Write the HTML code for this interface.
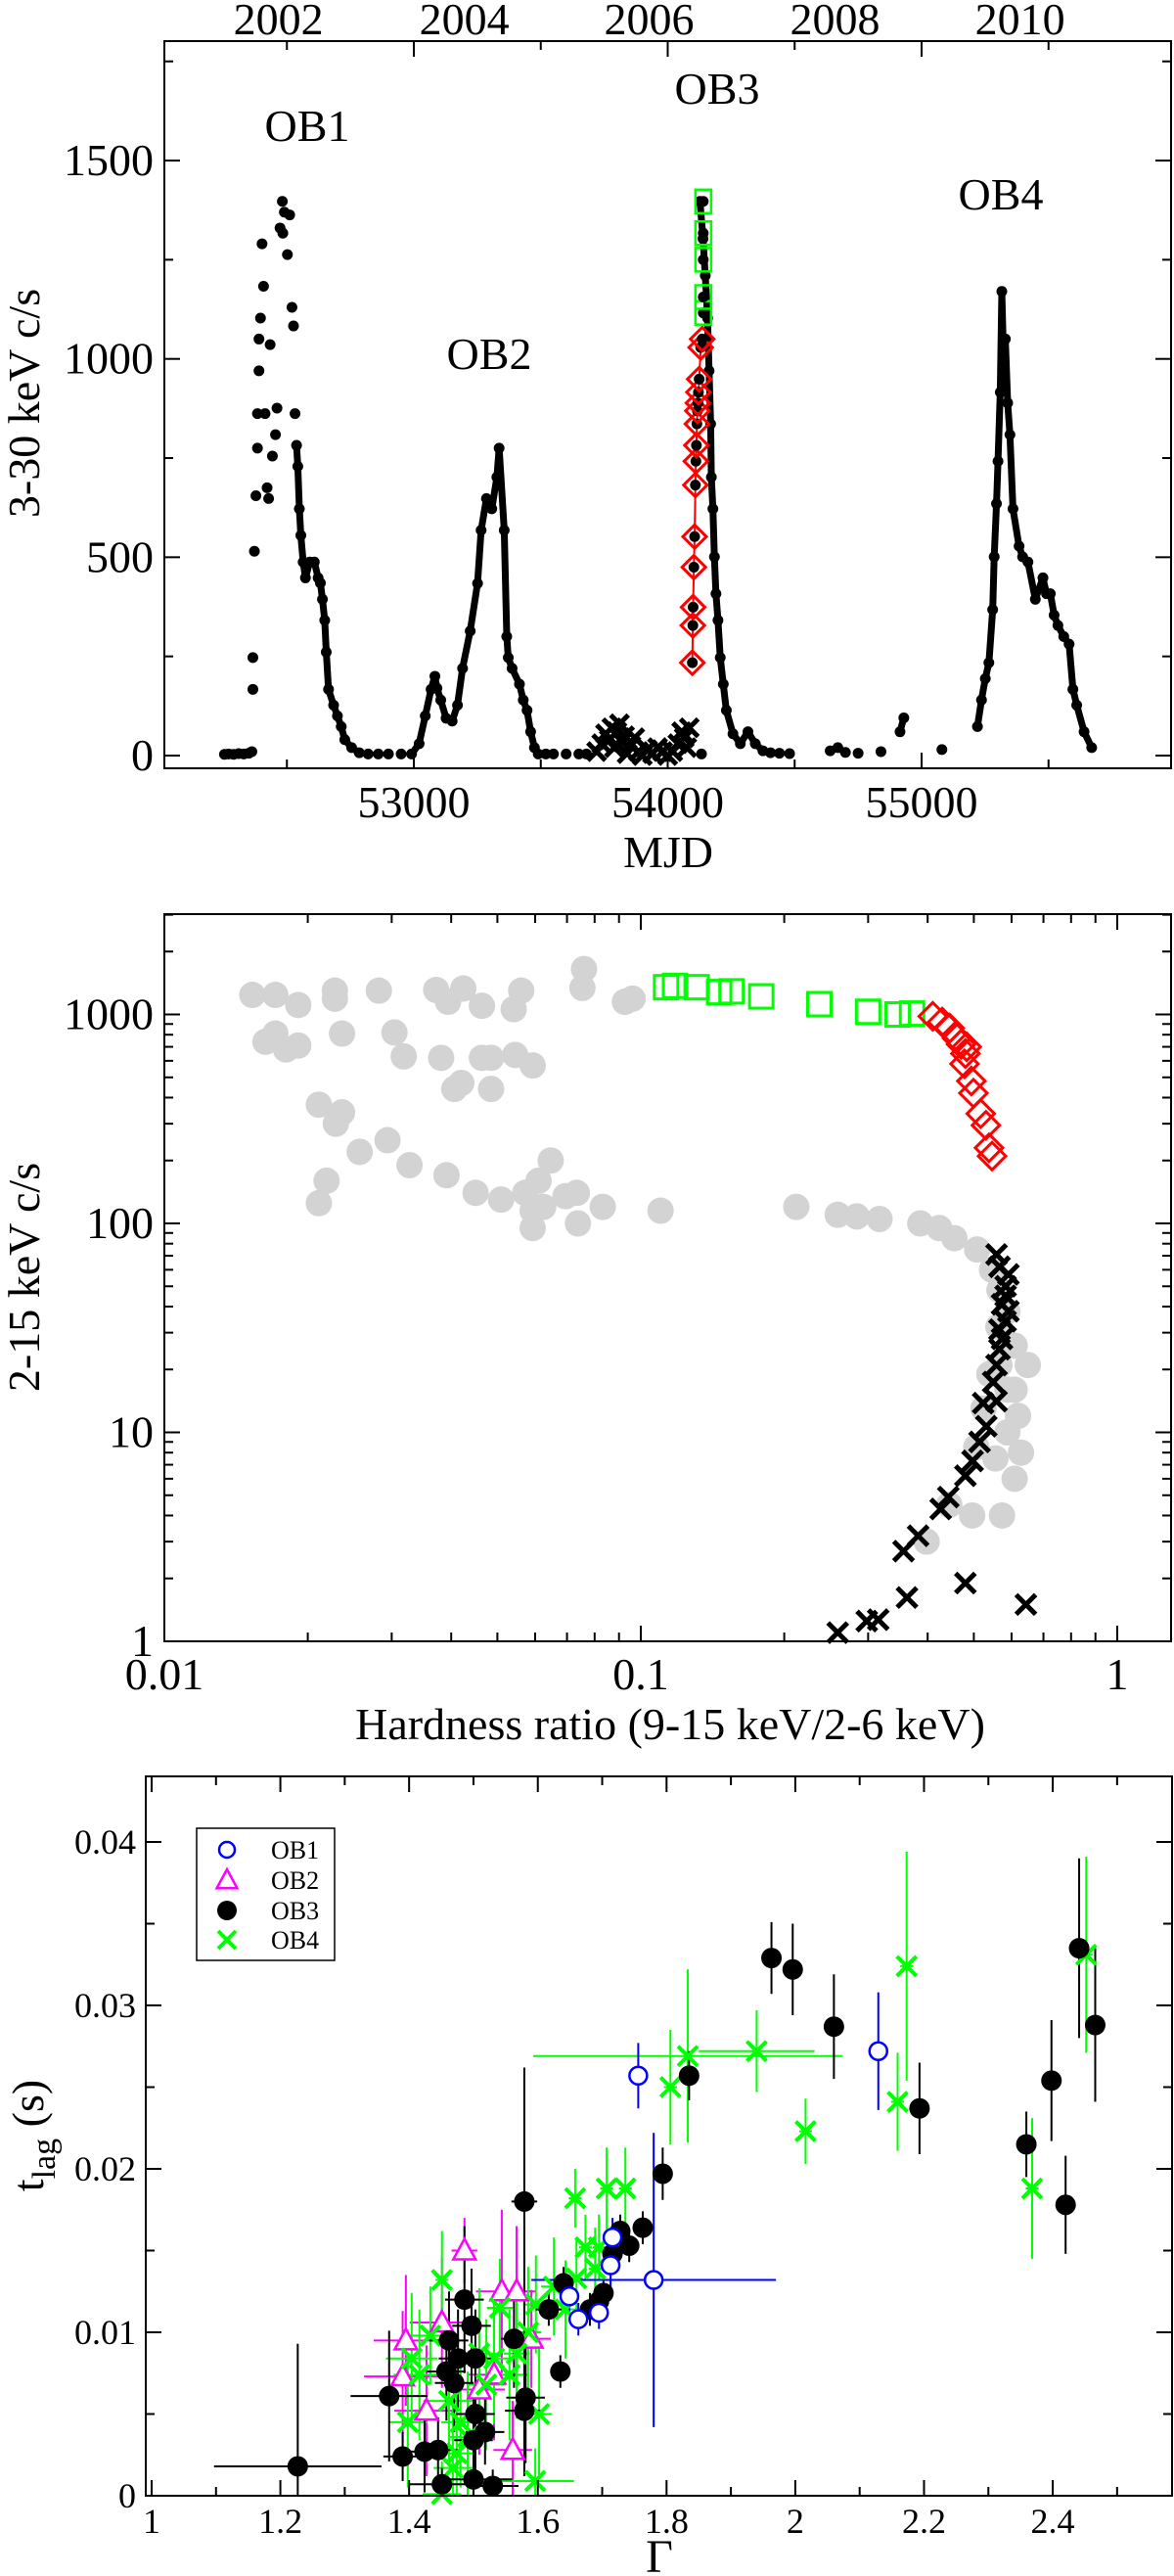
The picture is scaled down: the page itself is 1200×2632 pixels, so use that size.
<!DOCTYPE html>
<html><head><meta charset="utf-8"><style>
html,body{margin:0;padding:0;background:#fff;}
svg{display:block;font-family:"Liberation Serif",serif;}
</style></head><body>
<svg id="fig" xmlns="http://www.w3.org/2000/svg" width="1200" height="2632" viewBox="0 0 1200 2632">
<g id="p1"></g>
<g id="p2"></g>
<g id="p3"></g>
</svg>
<script>
// ---------- Panel 1 data (MJD, 3-30 keV c/s) ----------
const lcMjd = [52254,52270,52290,52310,52330,52350,52362,52366,52366,52372,52378,52384,52384,52390,52390,52396,52402,52408,52414,52422,52428,52434,52443,52455,52461,52473,52482,52484,52490,52502,52511,52520,52526,52532,52538,52543,52549,52555,52564,52573,52590,52608,52623,52632,52640,52649,52655,52664,52684,52699,52714,52728,52755,52785,52820,52860,52900,52950,52991,
53021,53045,53068,53083,53091,53106,53127,53151,53172,53192,53222,53251,53265,53286,53307,53327,53336,53356,53366,53372,53387,53416,53431,53446,53460,53475,53490,53520,53550,53600,53650,53680,
54127,54139,54148,54157,54163,54169,54172,54178,54184,54190,54198,54207,54219,54231,54257,54286,54316,54345,54375,54405,54440,54480,
54640,54670,54700,54750,54840,54915,54930,55080,
55220,55236,55251,55265,55280,55286,55295,55301,55310,55316,55324,55330,55339,55348,55360,55384,55398,55419,55448,55478,55492,55507,55522,55537,55560,55581,55596,55611,55640,55670,
54133];
const lcRate = [3,4,3,5,4,6,10,247,167,515,655,775,862,970,1050,1103,1290,1183,862,675,648,1036,755,809,876,1330,1397,1317,1370,1263,1363,1130,1083,862,782,729,622,555,488,448,488,488,448,435,394,341,261,167,127,100,73,40,20,7,4,4,4,4,4,
30,100,167,200,170,140,94,87,127,220,314,434,568,648,622,702,775,568,300,247,220,180,140,114,60,20,4,4,4,4,4,4,
1397,1303,1210,1103,970,836,702,622,501,408,341,247,180,114,55,30,60,30,12,7,6,5,
12,20,8,6,10,60,95,15,
73,140,194,234,368,501,635,742,916,1170,970,1050,889,809,622,528,501,488,394,448,408,408,354,328,300,281,167,127,60,20,4,
1557];
const xMjd = [53720,53740,53755,53770,53780,53790,53800,53810,53820,53830,53840,53855,53870,53885,53900,53920,53940,53960,53980,54000,54020,54040,54055,54065,54075,54085];
const xRate = [10,30,55,40,70,20,60,80,35,50,5,25,45,10,0,15,5,20,10,0,10,30,60,45,20,70];
const dMjd = [54097,54099,54100,54103,54106,54109,54111,54113,54115,54117,54119,54121,54124,54130,54136];
const dRate = [234,328,374,475,552,682,742,782,836,869,889,916,949,1029,1050];
const sMjd = [54140,54140,54140,54140,54140];
const sRate = [1116,1156,1250,1317,1397];
const p1XTicks = [53000,54000,55000];
const p1YTicks = [0,500,1000,1500];
const yearLabels = ["2002","2004","2006","2008","2010"];
const yearMjd = [52467,53199,53927,54659,55388];

// ---------- Panel 2 data (hardness, 2-15 keV c/s) ----------
const grayHR = [0.0153,0.0171,0.0191,0.0163,0.0171,0.0180,0.0191,0.0211,0.0219,0.0211,0.0228,0.0228,0.0236,0.0236,0.0229,0.0257,0.0282,0.0294,0.0304,0.0318,0.0327,0.0372,0.0381,0.0394,0.0391,0.0406,0.0424,0.0420,0.0450,0.0464,0.0464,0.0485,0.0485,0.0509,0.0545,0.0561,0.0541,0.0593,0.0572,0.0593,0.0610,0.0593,0.0624,0.0647,0.0695,0.0734,0.0738,0.0754,0.0760,0.0832,0.0926,0.0961,0.110,0.212,0.259,0.284,0.317,0.386,0.423,0.455,0.508,0.546,0.566,0.588,0.563,0.609,0.566,0.649,0.588,0.619,0.588,0.628,0.609,0.573,0.398,0.444,0.496,0.555,0.506,0.524,0.539,0.609];
const grayCnt = [1240,1240,1110,740,810,680,710,370,160,125,1190,1300,810,340,300,220,1300,250,820,630,190,1310,620,1150,170,440,1330,470,140,1100,620,440,620,130,640,1300,1060,570,140,115,160,95,120,200,135,140,100,1340,1650,120,1150,1190,115,120,110,108,105,100,95,85,75,60,48,38,32,26,21,21,16,12,10,8,6,4,3,4.5,4,7.5,8.5,13,19,16];
const sqHR = [0.113,0.118,0.131,0.146,0.155,0.179,0.237,0.300,0.346,0.371];
const sqCnt = [1350,1370,1350,1280,1290,1220,1120,1030,1000,1010];
const diaHR = [0.410,0.429,0.445,0.461,0.470,0.483,0.480,0.478,0.494,0.499,0.517,0.530,0.538,0.546];
const diaCnt = [980,920,860,770,720,700,650,580,480,420,335,295,230,210];
const xHR = [0.259,0.298,0.315,0.362,0.480,0.643,0.356,0.382,0.426,0.442,0.480,0.497,0.514,0.531,0.523,0.558,0.549,0.558,0.566,0.573,0.583,0.573,0.583,0.566,0.591,0.558,0.583,0.591,0.566];
const xCnt = [1.1,1.25,1.27,1.62,1.9,1.5,2.7,3.2,4.3,4.9,6.2,7.3,9.0,10.7,13.8,14.1,17.4,21.0,25.0,28.0,34.0,41.0,50.0,62.0,57.0,71.0,45.0,38.0,31.0];
const p2XTicks = [0.01,0.1,1];
const p2XLabels = ["0.01","0.1","1"];
const p2YTicks = [1,10,100,1000];
const p2YLabels = ["1","10","100","1000"];

// ---------- Panel 3 data (Gamma, t_lag) ----------
const ob1G = [1.756,1.780,2.129,1.713,1.695,1.663,1.716,1.649];
const ob1T = [0.0257,0.0132,0.0272,0.0141,0.0112,0.0108,0.0158,0.0122];
const ob1GE = [0.005,0.19,0.01,0.01,0.01,0.01,0.01,0.01];
const ob1TE = [0.002,0.009,0.0036,0.002,0.001,0.001,0.0012,0.001];
const ob2G = [1.395,1.390,1.486,1.544,1.567,1.561,1.451,1.532,1.590,1.509,1.427];
const ob2T = [0.0095,0.0073,0.0150,0.0125,0.0125,0.0028,0.0106,0.0074,0.0096,0.0065,0.0052];
const ob2GE = [0.05,0.06,0.02,0.04,0.03,0.03,0.05,0.04,0.03,0.04,0.05];
const ob2TE = [0.004,0.004,0.002,0.005,0.004,0.003,0.004,0.004,0.003,0.004,0.004];
const ob3G = [1.227,1.369,1.390,1.424,1.445,1.451,1.458,1.462,1.470,1.476,1.486,1.497,1.500,1.503,1.503,1.500,1.518,1.530,1.563,1.579,1.579,1.581,1.617,1.635,1.640,1.681,1.695,1.702,1.716,1.728,1.742,1.763,1.794,1.835,1.963,1.996,2.060,2.193,2.359,2.398,2.420,2.441,2.466];
const ob3T = [0.0018,0.0061,0.0024,0.0027,0.0028,0.0007,0.0076,0.0095,0.0069,0.0084,0.0120,0.0104,0.0010,0.0050,0.0084,0.0034,0.0039,0.0006,0.0096,0.0180,0.0052,0.0060,0.0114,0.0076,0.0130,0.0114,0.0119,0.0124,0.0148,0.0162,0.0153,0.0164,0.0197,0.0257,0.0329,0.0322,0.0287,0.0237,0.0215,0.0254,0.0178,0.0335,0.0288];
const ob3GE = [0.13,0.06,0.03,0.03,0.03,0.05,0.03,0.03,0.03,0.03,0.03,0.03,0.06,0.03,0.03,0.03,0.03,0.04,0.02,0.02,0.03,0.03,0.02,0.01,0.01,0.01,0.01,0.01,0.01,0.01,0.01,0.01,0.01,0.01,0.01,0.01,0.01,0.01,0.01,0.01,0.01,0.01,0.01];
const ob3TE = [0.0075,0.0040,0.0015,0.0025,0.0020,0.0010,0.0030,0.0030,0.0030,0.0030,0.0045,0.0035,0.0010,0.0040,0.0030,0.0030,0.0020,0.0010,0.0030,0.0082,0.0040,0.0040,0.0010,0.0010,0.0010,0.0010,0.0010,0.0010,0.0010,0.0010,0.0010,0.0010,0.0016,0.0015,0.0022,0.0028,0.0032,0.0028,0.0020,0.0037,0.0030,0.0055,0.0047];
const ob4G = [1.451,1.404,1.398,1.433,1.468,1.480,1.509,1.532,1.541,1.567,1.597,1.602,1.596,1.451,1.625,1.643,1.658,1.660,1.674,1.689,1.695,1.707,1.736,1.806,1.833,1.940,2.016,2.159,2.173,2.368,2.452,1.416,1.462,1.491,1.520,1.556,1.585,1.474];
const ob4T = [0.0132,0.0084,0.0045,0.0098,0.0017,0.0045,0.0087,0.0084,0.0115,0.0087,0.0117,0.0050,0.0009,0.0001,0.0128,0.0114,0.0182,0.0133,0.0152,0.0139,0.0152,0.0188,0.0188,0.0250,0.0269,0.0272,0.0223,0.0241,0.0324,0.0188,0.0331,0.0074,0.0058,0.0036,0.0068,0.0074,0.0100,0.0026];
const ob4GE = [0.01,0.04,0.03,0.03,0.03,0.03,0.03,0.03,0.02,0.02,0.02,0.02,0.06,0.03,0.02,0.02,0.01,0.01,0.01,0.01,0.01,0.01,0.01,0.01,0.24,0.09,0.01,0.01,0.01,0.01,0.01,0.04,0.04,0.03,0.03,0.03,0.02,0.03];
const ob4TE = [0.003,0.004,0.004,0.003,0.004,0.004,0.004,0.004,0.003,0.004,0.003,0.004,0.002,0.002,0.003,0.003,0.0018,0.0025,0.002,0.0025,0.002,0.0025,0.0025,0.0035,0.0053,0.0025,0.002,0.003,0.007,0.0043,0.006,0.004,0.004,0.004,0.004,0.004,0.004,0.004];
const p3XTicks = [1,1.2,1.4,1.6,1.8,2,2.2,2.4];
const p3XLabels = ["1","1.2","1.4","1.6","1.8","2","2.2","2.4"];
const p3YTicks = [0,0.01,0.02,0.03,0.04];
const p3YLabels = ["0","0.01","0.02","0.03","0.04"];

const NS = "http://www.w3.org/2000/svg";
function mk(parent, tag, attrs, text){
  const e = document.createElementNS(NS, tag);
  for (const k in attrs) e.setAttribute(k, attrs[k]);
  if (text !== undefined) e.textContent = text;
  parent.appendChild(e);
  return e;
}
function line(g,x1,y1,x2,y2,stroke,w){ return mk(g,'line',{x1:x1,y1:y1,x2:x2,y2:y2,stroke:stroke,'stroke-width':w}); }

// ================= PANEL 1 =================
const p1 = document.getElementById('p1');
const X1 = m => 423 + (m - 53000) * 0.2595;
const Y1 = r => 772 - r * 0.4053;
const L1=168,R1=1197,T1=42,B1=785;
(function(){
  let d = '';
  for (let i=0;i<lcMjd.length;i++){
    const cont = i>0 && Math.abs(lcMjd[i]-lcMjd[i-1])<35 && lcMjd[i]>52540;
    d += (cont?'L':'M') + X1(lcMjd[i]).toFixed(1) + ' ' + Y1(lcRate[i]).toFixed(1) + ' ';
  }
  const p = mk(p1,'path',{d:d,fill:'none',stroke:'#000','stroke-width':7,'stroke-linecap':'round','stroke-linejoin':'round'});
  
  
})();
for (let i=0;i<lcMjd.length;i++){
  const c = mk(p1,'circle',{cx:X1(lcMjd[i]),cy:Y1(lcRate[i]),r:5.5,fill:'#000'});
  
  
}
for (let i=0;i<xMjd.length;i++){
  const x=X1(xMjd[i]), y=Y1(xRate[i]), s=9;
  const p = mk(p1,'path',{d:`M${x-s} ${y-s}L${x+s} ${y+s}M${x-s} ${y+s}L${x+s} ${y-s}`,stroke:'#000','stroke-width':5});
  
  
}
(function(){
  let d='';
  for (let i=0;i<dMjd.length;i++) d += (i?'L':'M') + X1(dMjd[i]) + ' ' + Y1(dRate[i]) + ' ';
  const p = mk(p1,'path',{d:d,fill:'none',stroke:'#f00','stroke-width':2});
  
  
})();
for (let i=0;i<dMjd.length;i++){
  const x=X1(dMjd[i]), y=Y1(dRate[i]), s=12;
  const p = mk(p1,'path',{d:`M${x} ${y-s}L${x+s} ${y}L${x} ${y+s}L${x-s} ${y}Z`,fill:'none',stroke:'#f00','stroke-width':3});
  
  
  const c = mk(p1,'circle',{cx:x,cy:y,r:5.5,fill:'#000'});
  
  
}
for (let i=0;i<sMjd.length;i++){
  const x=X1(sMjd[i]), y=Y1(sRate[i]);
  const r = mk(p1,'rect',{x:x-8,y:y-12,width:16,height:24,fill:'none',stroke:'#0f0','stroke-width':2.5});
  
  
  const c = mk(p1,'circle',{cx:x,cy:y,r:5.5,fill:'#000'});
  
  
}
(function(){
  const g = mk(p1,'g',{});
  
  
  mk(g,'rect',{x:L1,y:T1,width:R1-L1,height:B1-T1,fill:'none',stroke:'#000','stroke-width':2});
  for (let m=52500;m<=55500;m+=500){
    const x=X1(m), maj = p1XTicks.includes(m);
    line(g,x,B1,x,B1-(maj?16:9),'#000',2);
    line(g,x,T1,x,T1+(maj?16:9),'#000',2);
  }
  for (let r=0;r<=1750;r+=250){
    const y=Y1(r), maj=p1YTicks.includes(r);
    line(g,L1,y,L1+(maj?16:9),y,'#000',2);
    line(g,R1,y,R1-(maj?16:9),y,'#000',2);
  }
  p1XTicks.forEach(m=>{
    const t = mk(g,'text',{x:X1(m),y:835,'font-size':46,'text-anchor':'middle'},String(m));
    
    
  });
  p1YTicks.forEach(r=>{
    const t = mk(g,'text',{x:157,y:Y1(r)+15,'font-size':46,'text-anchor':'end'},String(r));
    
    
  });
  yearLabels.forEach((s,i)=>{
    const t = mk(g,'text',{x:X1(yearMjd[i]),y:35,'font-size':46,'text-anchor':'middle'},s);
    
    
  });
})();
(function(){
  const anns=[["OB1",314,144],["OB2",500,377],["OB3",733,106],["OB4",1023,214]];
  anns.forEach(a=>{
    const t = mk(p1,'text',{x:a[1],y:a[2],'font-size':46,'text-anchor':'middle'},a[0]);
    
    
  });
  const t1 = mk(p1,'text',{x:683,y:886,'font-size':46,'text-anchor':'middle'},"MJD");
  
  
  const t2 = mk(p1,'text',{x:0,y:0,'font-size':46,'text-anchor':'middle',transform:'translate(40,412) rotate(-90)'},"3-30 keV c/s");
  
  
})();

// ================= PANEL 2 =================
const p2 = document.getElementById('p2');
const X2 = h => 168 + (Math.log10(h)+2)*487;
const Y2 = c => 1677 - Math.log10(c)*213.5;
const L2=168,R2=1197,T2=934,B2=1677;
for (let i=0;i<grayHR.length;i++){
  const c = mk(p2,'circle',{cx:X2(grayHR[i]),cy:Y2(grayCnt[i]),r:13.5,fill:'#d3d3d3'});
  
  
}
for (let i=0;i<sqHR.length;i++){
  const x=X2(sqHR[i]), y=Y2(sqCnt[i]);
  const r = mk(p2,'rect',{x:x-12,y:y-12,width:24,height:24,fill:'none',stroke:'#0f0','stroke-width':3});
  
  
}
for (let i=0;i<diaHR.length;i++){
  const x=X2(diaHR[i]), y=Y2(diaCnt[i]), s=14;
  const p = mk(p2,'path',{d:`M${x} ${y-s}L${x+s} ${y}L${x} ${y+s}L${x-s} ${y}Z`,fill:'none',stroke:'#f00','stroke-width':3});
  
  
}
for (let i=0;i<xHR.length;i++){
  const x=X2(xHR[i]), y=Y2(xCnt[i]), s=10;
  const p = mk(p2,'path',{d:`M${x-s} ${y-s}L${x+s} ${y+s}M${x-s} ${y+s}L${x+s} ${y-s}`,stroke:'#000','stroke-width':5});
  
  
}
(function(){
  const g = mk(p2,'g',{});
  
  
  mk(g,'rect',{x:L2,y:T2,width:R2-L2,height:B2-T2,fill:'none',stroke:'#000','stroke-width':2});
  for (let dec=-2; dec<=0; dec++){
    for (let k=1;k<=9;k++){
      const v=k*Math.pow(10,dec), x=X2(v);
      if (x>R2) continue;
      const L = k===1?16:9;
      line(g,x,B2,x,B2-L,'#000',2); line(g,x,T2,x,T2+L,'#000',2);
    }
  }
  for (let dec=0; dec<=3; dec++){
    for (let k=1;k<=9;k++){
      const v=k*Math.pow(10,dec), y=Y2(v);
      if (y<T2) continue;
      const L = k===1?16:9;
      line(g,L2,y,L2+L,y,'#000',2); line(g,R2,y,R2-L,y,'#000',2);
    }
  }
  p2XTicks.forEach((v,i)=>{
    const t = mk(g,'text',{x:X2(v),y:1726,'font-size':46,'text-anchor':'middle'},p2XLabels[i]);
    
    
  });
  p2YTicks.forEach((v,i)=>{
    const t = mk(g,'text',{x:157,y:Y2(v)+15,'font-size':46,'text-anchor':'end'},p2YLabels[i]);
    
    
  });
  const t1 = mk(g,'text',{x:685,y:1777,'font-size':46,'text-anchor':'middle'},"Hardness ratio (9-15 keV/2-6 keV)");
  
  
  const t2 = mk(g,'text',{x:0,y:0,'font-size':46,'text-anchor':'middle',transform:'translate(40,1305) rotate(-90)'},"2-15 keV c/s");
  
  
})();

// ================= PANEL 3 =================
const p3 = document.getElementById('p3');
const X3 = g => 155 + (g-1)*657.9;
const Y3 = t => 2550 - t*16700;
const L3=149,R3=1198,T3=1815,B3=2550;
function errbars(G,T,GE,TE,color,name){
  for (let i=0;i<G.length;i++){
    const x=X3(G[i]), y=Y3(T[i]);
    const p = mk(p3,'path',{d:`M${X3(G[i]-GE[i])} ${y}H${X3(G[i]+GE[i])}M${x} ${Math.min(B3,Y3(T[i]-TE[i]))}V${Y3(T[i]+TE[i])}`,stroke:color,'stroke-width':2,fill:'none'});
    
    
  }
}
errbars(ob2G,ob2T,ob2GE,ob2TE,'#f0f','ob2-error-bar');
errbars(ob4G,ob4T,ob4GE,ob4TE,'#0f0','ob4-error-bar');
errbars(ob3G,ob3T,ob3GE,ob3TE,'#000','ob3-error-bar');
errbars(ob1G,ob1T,ob1GE,ob1TE,'#00f','ob1-error-bar');
function tri(g,x,y,s,name){
  const p = mk(g,'path',{d:`M${x} ${y-s}L${x+s*0.95} ${y+s*0.75}L${x-s*0.95} ${y+s*0.75}Z`,fill:'#fff',stroke:'#f0f','stroke-width':2.5});
  
  
}
function xm(g,x,y,s,color,w,name){
  const p = mk(g,'path',{d:`M${x-s} ${y-s}L${x+s} ${y+s}M${x-s} ${y+s}L${x+s} ${y-s}`,stroke:color,'stroke-width':w});
  
  
}
for (let i=0;i<ob2G.length;i++) tri(p3,X3(ob2G[i]),Y3(ob2T[i]),12,'ob2-point');
for (let i=0;i<ob4G.length;i++) xm(p3,X3(ob4G[i]),Y3(ob4T[i]),10,'#0f0',4,'ob4-point');
for (let i=0;i<ob3G.length;i++){
  const c = mk(p3,'circle',{cx:X3(ob3G[i]),cy:Y3(ob3T[i]),r:10.5,fill:'#000'});
  
  
}
for (let i=0;i<ob1G.length;i++){
  const c = mk(p3,'circle',{cx:X3(ob1G[i]),cy:Y3(ob1T[i]),r:9,fill:'#fff',stroke:'#00f','stroke-width':2.5});
  
  
}
(function(){
  const g = mk(p3,'g',{});
  
  
  mk(g,'rect',{x:L3,y:T3,width:R3-L3,height:B3-T3,fill:'none',stroke:'#000','stroke-width':2});
  for (let k=0;k<=16;k++){
    const v=1+k*0.1, x=X3(v); if (x>R3) continue;
    const L = k%2===0?16:9;
    line(g,x,B3,x,B3-L,'#000',2); line(g,x,T3,x,T3+L,'#000',2);
  }
  for (let k=0;k<=8;k++){
    const v=k*0.005, y=Y3(v);
    const L = k%2===0?16:9;
    line(g,L3,y,L3+L,y,'#000',2); line(g,R3,y,R3-L,y,'#000',2);
  }
  p3XTicks.forEach((v,i)=>{
    const t = mk(g,'text',{x:X3(v),y:2588,'font-size':36,'text-anchor':'middle'},p3XLabels[i]);
    
    
  });
  p3YTicks.forEach((v,i)=>{
    const t = mk(g,'text',{x:139,y:Y3(v)+12,'font-size':36,'text-anchor':'end'},p3YLabels[i]);
    
    
  });
  const t1 = mk(g,'text',{x:674,y:2628,'font-size':48,'text-anchor':'middle'},"Γ");
  
  
  const t2 = mk(g,'text',{x:0,y:0,'font-size':46,'text-anchor':'middle',transform:'translate(44,2182) rotate(-90)'});
  
  
  mk(t2,'tspan',{},"t");
  mk(t2,'tspan',{'font-size':34,dy:12},"lag");
  mk(t2,'tspan',{dy:-12},"  (s)");
  const lg = mk(p3,'g',{});
  
  
  mk(lg,'rect',{x:201,y:1868,width:141,height:135,fill:'#fff',stroke:'#000','stroke-width':1.5});
  const ly=[1890,1921,1952,1982], lt=["OB1","OB2","OB3","OB4"];
  let c = mk(lg,'circle',{cx:232,cy:ly[0],r:8,fill:'#fff',stroke:'#00f','stroke-width':2.5});
  
  
  tri(lg,232,ly[1],11,'legend-marker-ob2');
  c = mk(lg,'circle',{cx:232,cy:ly[2],r:10,fill:'#000'});
  
  
  xm(lg,232,ly[3],9,'#0f0',4,'legend-marker-ob4');
  lt.forEach((s,i)=>{
    const t = mk(lg,'text',{x:277,y:ly[i]+9,'font-size':26},s);
    
    
  });
})();
</script>
</body></html>
